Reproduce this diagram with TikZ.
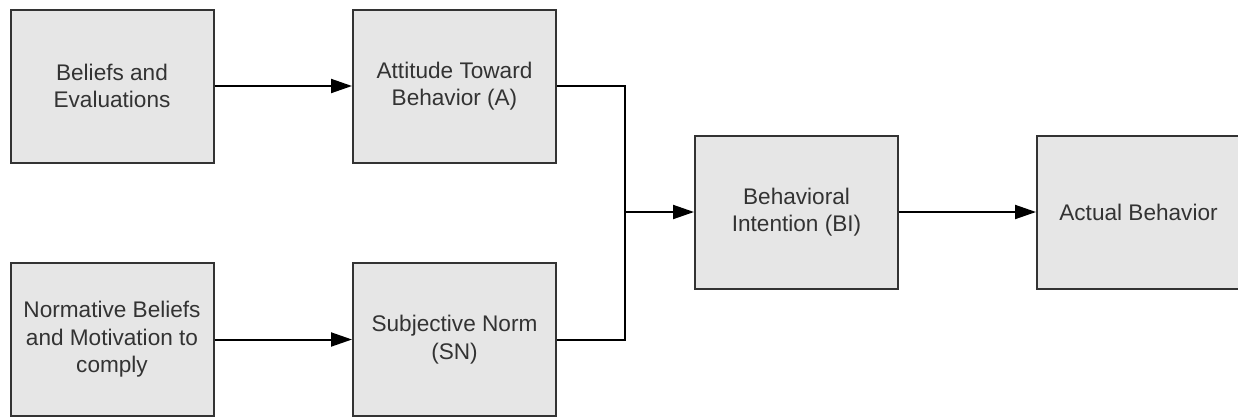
\documentclass[tikz,border=0pt]{standalone}
\usepackage{fontspec}
\setmainfont{Liberation Sans}
\usetikzlibrary{arrows.meta}
\definecolor{boxfill}{HTML}{E6E6E6}
\definecolor{boxline}{HTML}{333333}
\definecolor{txt}{HTML}{333333}
\begin{document}
\begin{tikzpicture}[x=1pt,y=-1pt,
  stagebox/.style={draw=boxline,fill=boxfill,line width=2pt,rectangle,inner sep=0pt,
    minimum width=203pt,minimum height=153pt,align=center,text=txt,
    font=\fontsize{22.6}{27.5}\selectfont},
  link/.style={line width=2pt,draw=black},
  arr/.style={link,-{Triangle[length=21pt,width=14pt]}}]
\useasboundingbox (0,0) rectangle (1238,418);
\node[stagebox] (be) at (112,86) {Beliefs and\\Evaluations};
\node[stagebox] (at) at (454.5,86) {Attitude Toward\\Behavior (A)};
\node[stagebox] (nb) at (112,339.5) {Normative Beliefs\\and Motivation to\\comply};
\node[stagebox] (sn) at (454.5,339.5) {Subjective Norm\\(SN)};
\node[stagebox] (bi) at (796.5,212) {Behavioral\\Intention (BI)};
\node[stagebox] (ab) at (1138.5,212) {Actual Behavior};
\coordinate (j) at (625,212);
\draw[arr] (be) -- (at);
\draw[arr] (nb) -- (sn);
\draw[link] (at.east) -| (j);
\draw[link] (sn.east) -| (j);
\draw[arr] (j) -- (bi);
\draw[arr] (bi) -- (ab);
\end{tikzpicture}
\end{document}
